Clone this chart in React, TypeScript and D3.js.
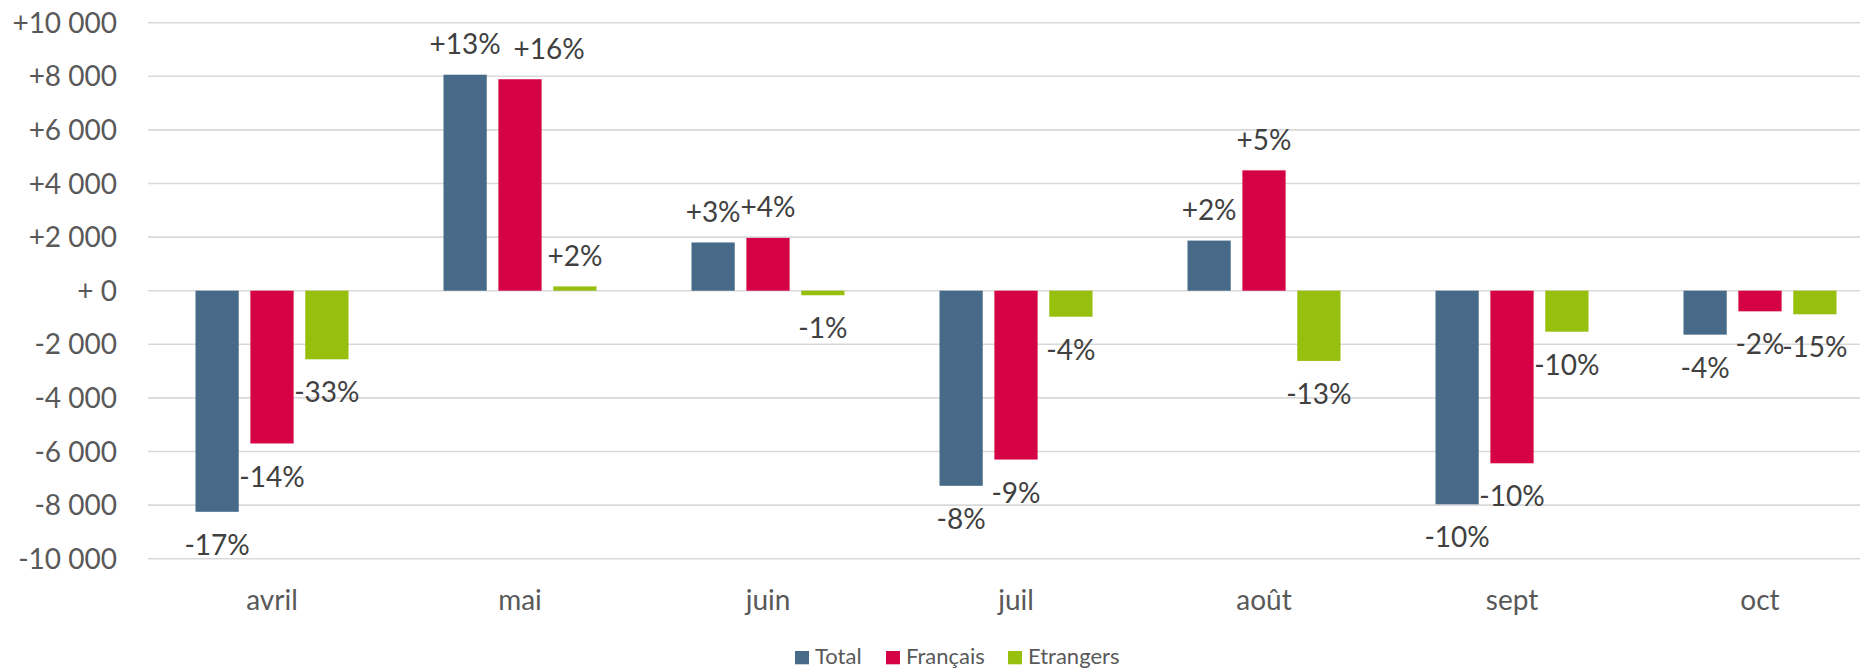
import React from "react";
import * as d3 from "d3";

const categories = ["avril", "mai", "juin", "juil", "août", "sept", "oct"];
const seriesNames = ["Total", "Français", "Etrangers"];
const totalValues = [-8250, 8060, 1800, -7280, 1870, -7970, -1640];
const francaisValues = [-5700, 7890, 1970, -6300, 4490, -6440, -770];
const etrangersValues = [-2560, 160, -170, -970, -2620, -1530, -880];
const totalPct = ["-17%", "+13%", "+3%", "-8%", "+2%", "-10%", "-4%"];
const francaisPct = ["-14%", "+16%", "+4%", "-9%", "+5%", "-10%", "-2%"];
const etrangersPct = ["-33%", "+2%", "-1%", "-4%", "-13%", "-10%", "-15%"];
const tickValues = [10000, 8000, 6000, 4000, 2000, 0, -2000, -4000, -6000, -8000, -10000];
const tickLabels = ["+10 000", "+8 000", "+6 000", "+4 000", "+2 000", "+ 0", "-2 000", "-4 000", "-6 000", "-8 000", "-10 000"];
const colors = ["#476A89", "#D50246", "#97BF0D"];

const W = 1860;
const H = 668;
const FONT = "Lato, 'Open Sans', sans-serif";
const FS = 28;
const LFS = 22;

// manual label nudge (Excel moved the "+16%" label in mai to avoid overlap)
const labelNudge: Record<string, number> = { "1-1": 29 };

export default function App() {
  const values = [totalValues, francaisValues, etrangersValues];
  const pcts = [totalPct, francaisPct, etrangersPct];

  const x0 = d3.scaleBand<string>().domain(categories).range([148, 1884]).paddingInner(0.383).paddingOuter(0.1915);
  const x1 = d3.scaleBand<string>().domain(seriesNames).range([0, x0.bandwidth()]).paddingInner(0.212);
  const y = d3.scaleLinear().domain([-10000, 10000]).range([558.7, 22.7]);

  const capHalf = FS * 0.36;

  const legendX = [795, 886, 1008];

  return (
    <svg width={W} height={H} style={{ position: "absolute", left: 0, top: 0, background: "#fff" }} fontFamily={FONT}>
      <rect x={0} y={0} width={W} height={H} fill="#fff" />
      {tickValues.map((t, i) => (
        <g key={"t" + i}>
          <line x1={148} x2={W} y1={y(t)} y2={y(t)} stroke="#D9D9D9" strokeWidth={1.6} />
          <text x={117} y={y(t) + capHalf} textAnchor="end" fontSize={FS} fill="#595959">
            {tickLabels[i]}
          </text>
        </g>
      ))}
      {categories.map((c, ci) => (
        <g key={c}>
          {seriesNames.map((s, si) => {
            const v = values[si][ci];
            const bx = (x0(c) as number) + (x1(s) as number);
            const bw = x1.bandwidth();
            const top = Math.min(y(v), y(0));
            const h = Math.abs(y(v) - y(0));
            const cx = bx + bw / 2 + (labelNudge[ci + "-" + si] || 0);
            const ly = v >= 0 ? y(v) - 30.5 : y(v) + 33;
            return (
              <g key={s}>
                <rect x={bx} y={top} width={bw} height={h} fill={colors[si]} />
                <text x={cx} y={ly + capHalf} textAnchor="middle" fontSize={FS} fill="#404040">
                  {pcts[si][ci]}
                </text>
              </g>
            );
          })}
          <text x={(x0(c) as number) + x0.bandwidth() / 2} y={610} textAnchor="middle" fontSize={FS} fill="#595959">
            {c}
          </text>
        </g>
      ))}
      {seriesNames.map((s, i) => (
        <g key={"l" + s}>
          <rect x={legendX[i]} y={651} width={14} height={13.3} fill={colors[i]} />
          <text x={legendX[i] + 20} y={664.3} fontSize={LFS} fill="#595959">
            {s}
          </text>
        </g>
      ))}
    </svg>
  );
}
